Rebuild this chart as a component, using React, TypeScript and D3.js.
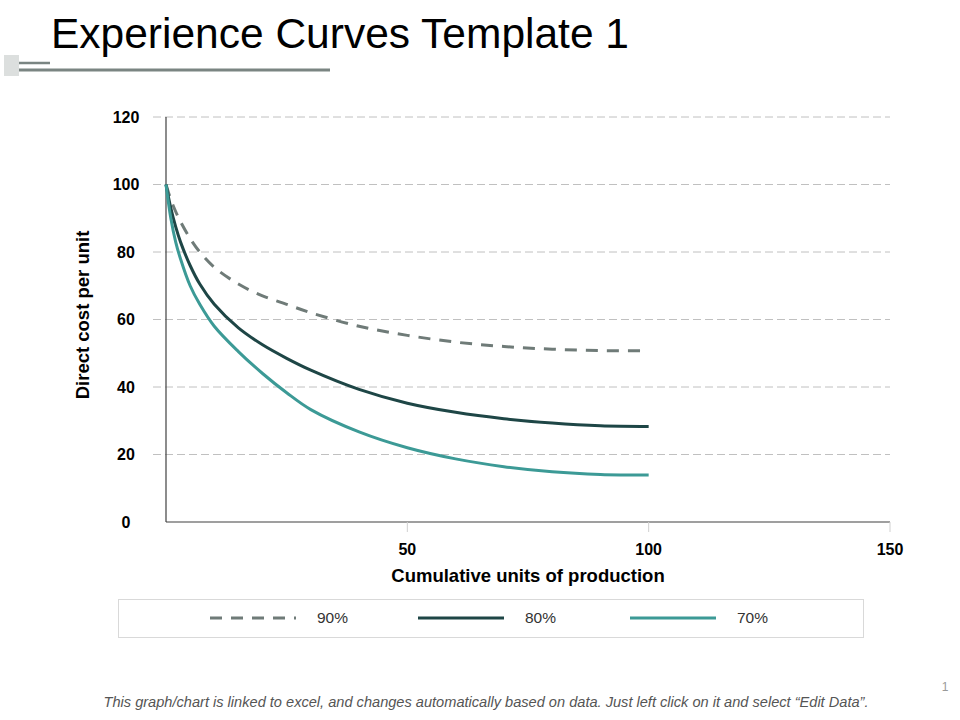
import * as d3 from "d3";
import { useRef, useEffect } from "react";

// Werte
const units = [0, 1, 2, 3, 5, 7, 10, 15, 20, 25, 30, 40, 50, 60, 70, 80, 90, 100];
const cost90 = [100, 95.5, 92, 89, 84, 80, 75.5, 70.5, 67, 64.5, 62, 58, 55.3, 53.3, 52, 51.2, 50.8, 50.7];
const cost80 = [100, 93, 87.5, 83, 76, 70.5, 64.5, 57.5, 52.5, 48.5, 45, 39.3, 35.2, 32.5, 30.6, 29.3, 28.5, 28.3];
const cost70 = [100, 90, 83, 78, 70, 64.5, 58, 50.5, 44, 38.3, 33.3, 26.7, 22, 18.7, 16.4, 14.9, 14.1, 13.9];

const seriesNames = ["90%", "80%", "70%"];
const seriesColors = ["#6f7b78", "#1e4646", "#3c9a96"];
const seriesDash = ["12,9", null, null];

const yTicks = [0, 20, 40, 60, 80, 100, 120];
const xTicks = [50, 100, 150];

const W = 960;
const H = 720;

export default function App() {
  const svgRef = useRef<SVGSVGElement | null>(null);

  useEffect(() => {
    if (!svgRef.current) return;
    const svg = d3.select(svgRef.current);
    svg.selectAll("*").remove();

    const x = d3.scaleLinear().domain([0, 150]).range([166, 890]);
    const y = d3.scaleLinear().domain([0, 120]).range([522, 117]);

    // Titel + Deko
    svg.append("rect").attr("x", 4).attr("y", 55).attr("width", 15).attr("height", 21).attr("fill", "#dcdfde");
    svg.append("line").attr("x1", 19).attr("x2", 50).attr("y1", 63).attr("y2", 63)
      .attr("stroke", "#7a8582").attr("stroke-width", 2.5);
    svg.append("line").attr("x1", 19).attr("x2", 330).attr("y1", 70).attr("y2", 70)
      .attr("stroke", "#7a8582").attr("stroke-width", 3);
    svg.append("text").attr("x", 51).attr("y", 48)
      .style("font", "42.5px Arial, 'Liberation Sans', sans-serif").attr("fill", "#000")
      .text("Experience Curves Template 1");

    // Gitterlinien
    svg.append("g").selectAll("line").data(yTicks.filter(t => t > 0)).join("line")
      .attr("x1", 153).attr("x2", 890)
      .attr("y1", d => y(d)).attr("y2", d => y(d))
      .attr("stroke", "#c0c0c0").attr("stroke-width", 1).attr("stroke-dasharray", "8,4");

    // Achsen
    svg.append("line").attr("x1", x(0)).attr("x2", x(0)).attr("y1", y(120)).attr("y2", y(0))
      .attr("stroke", "#404040").attr("stroke-width", 1.2);
    svg.append("line").attr("x1", x(0)).attr("x2", x(150)).attr("y1", y(0)).attr("y2", y(0))
      .attr("stroke", "#404040").attr("stroke-width", 1.2);
    svg.append("g").selectAll("line").data(xTicks).join("line")
      .attr("x1", d => x(d)).attr("x2", d => x(d)).attr("y1", y(0)).attr("y2", y(0) + 10)
      .attr("stroke", "#d0d0d0").attr("stroke-width", 1);

    const tickFont = "bold 16px Arial, 'Liberation Sans', sans-serif";
    svg.append("g").selectAll("text").data(yTicks).join("text")
      .attr("x", 126).attr("y", d => y(d)).attr("dy", "0.35em")
      .attr("text-anchor", "middle").style("font", tickFont).attr("fill", "#000")
      .text(d => d);
    svg.append("g").selectAll("text").data(xTicks).join("text")
      .attr("x", d => x(d)).attr("y", 549).attr("dy", "0.35em")
      .attr("text-anchor", "middle").style("font", tickFont).attr("fill", "#000")
      .text(d => d);

    // Achsentitel
    svg.append("text").attr("transform", "translate(89,315) rotate(-90)")
      .attr("text-anchor", "middle")
      .style("font", "bold 18.5px Arial, 'Liberation Sans', sans-serif").attr("fill", "#000")
      .text("Direct cost per unit");
    svg.append("text").attr("x", 528).attr("y", 582)
      .attr("text-anchor", "middle")
      .style("font", "bold 18.5px Arial, 'Liberation Sans', sans-serif").attr("fill", "#000")
      .text("Cumulative units of production");

    // Kurven
    const series = [cost90, cost80, cost70];
    const line = d3.line<number>()
      .x((_, i) => x(units[i]))
      .y(d => y(d))
      .curve(d3.curveCatmullRom.alpha(0.5));

    series.forEach((vals, i) => {
      svg.append("path").datum(vals)
        .attr("d", line)
        .attr("fill", "none")
        .attr("stroke", seriesColors[i])
        .attr("stroke-width", 3)
        .attr("stroke-dasharray", seriesDash[i] ?? null);
    });

    // Legende
    svg.append("rect").attr("x", 118.5).attr("y", 599.5).attr("width", 745).attr("height", 38)
      .attr("fill", "none").attr("stroke", "#d9d9d9").attr("stroke-width", 1);
    const legX = [210, 418, 630];
    seriesNames.forEach((name, i) => {
      svg.append("line").attr("x1", legX[i]).attr("x2", legX[i] + 86)
        .attr("y1", 618).attr("y2", 618)
        .attr("stroke", seriesColors[i]).attr("stroke-width", 3)
        .attr("stroke-dasharray", seriesDash[i] ?? null);
      svg.append("text").attr("x", legX[i] + 107).attr("y", 618).attr("dy", "0.35em")
        .style("font", "15.5px Arial, 'Liberation Sans', sans-serif").attr("fill", "#333")
        .text(name);
    });

    // Fusszeile
    svg.append("text").attr("x", 486).attr("y", 707)
      .attr("text-anchor", "middle")
      .style("font", "italic 14.6px Arial, 'Liberation Sans', sans-serif").attr("fill", "#555")
      .text("This graph/chart is linked to excel, and changes automatically based on data. Just left click on it and select \u201cEdit Data\u201d.");
    svg.append("text").attr("x", 945).attr("y", 691).attr("text-anchor", "middle")
      .style("font", "12px Arial, 'Liberation Sans', sans-serif").attr("fill", "#999")
      .text("1");
  }, []);

  return (
    <svg ref={svgRef} width={W} height={H}
      style={{ position: "absolute", left: 0, top: 0, background: "#fff" }} />
  );
}
